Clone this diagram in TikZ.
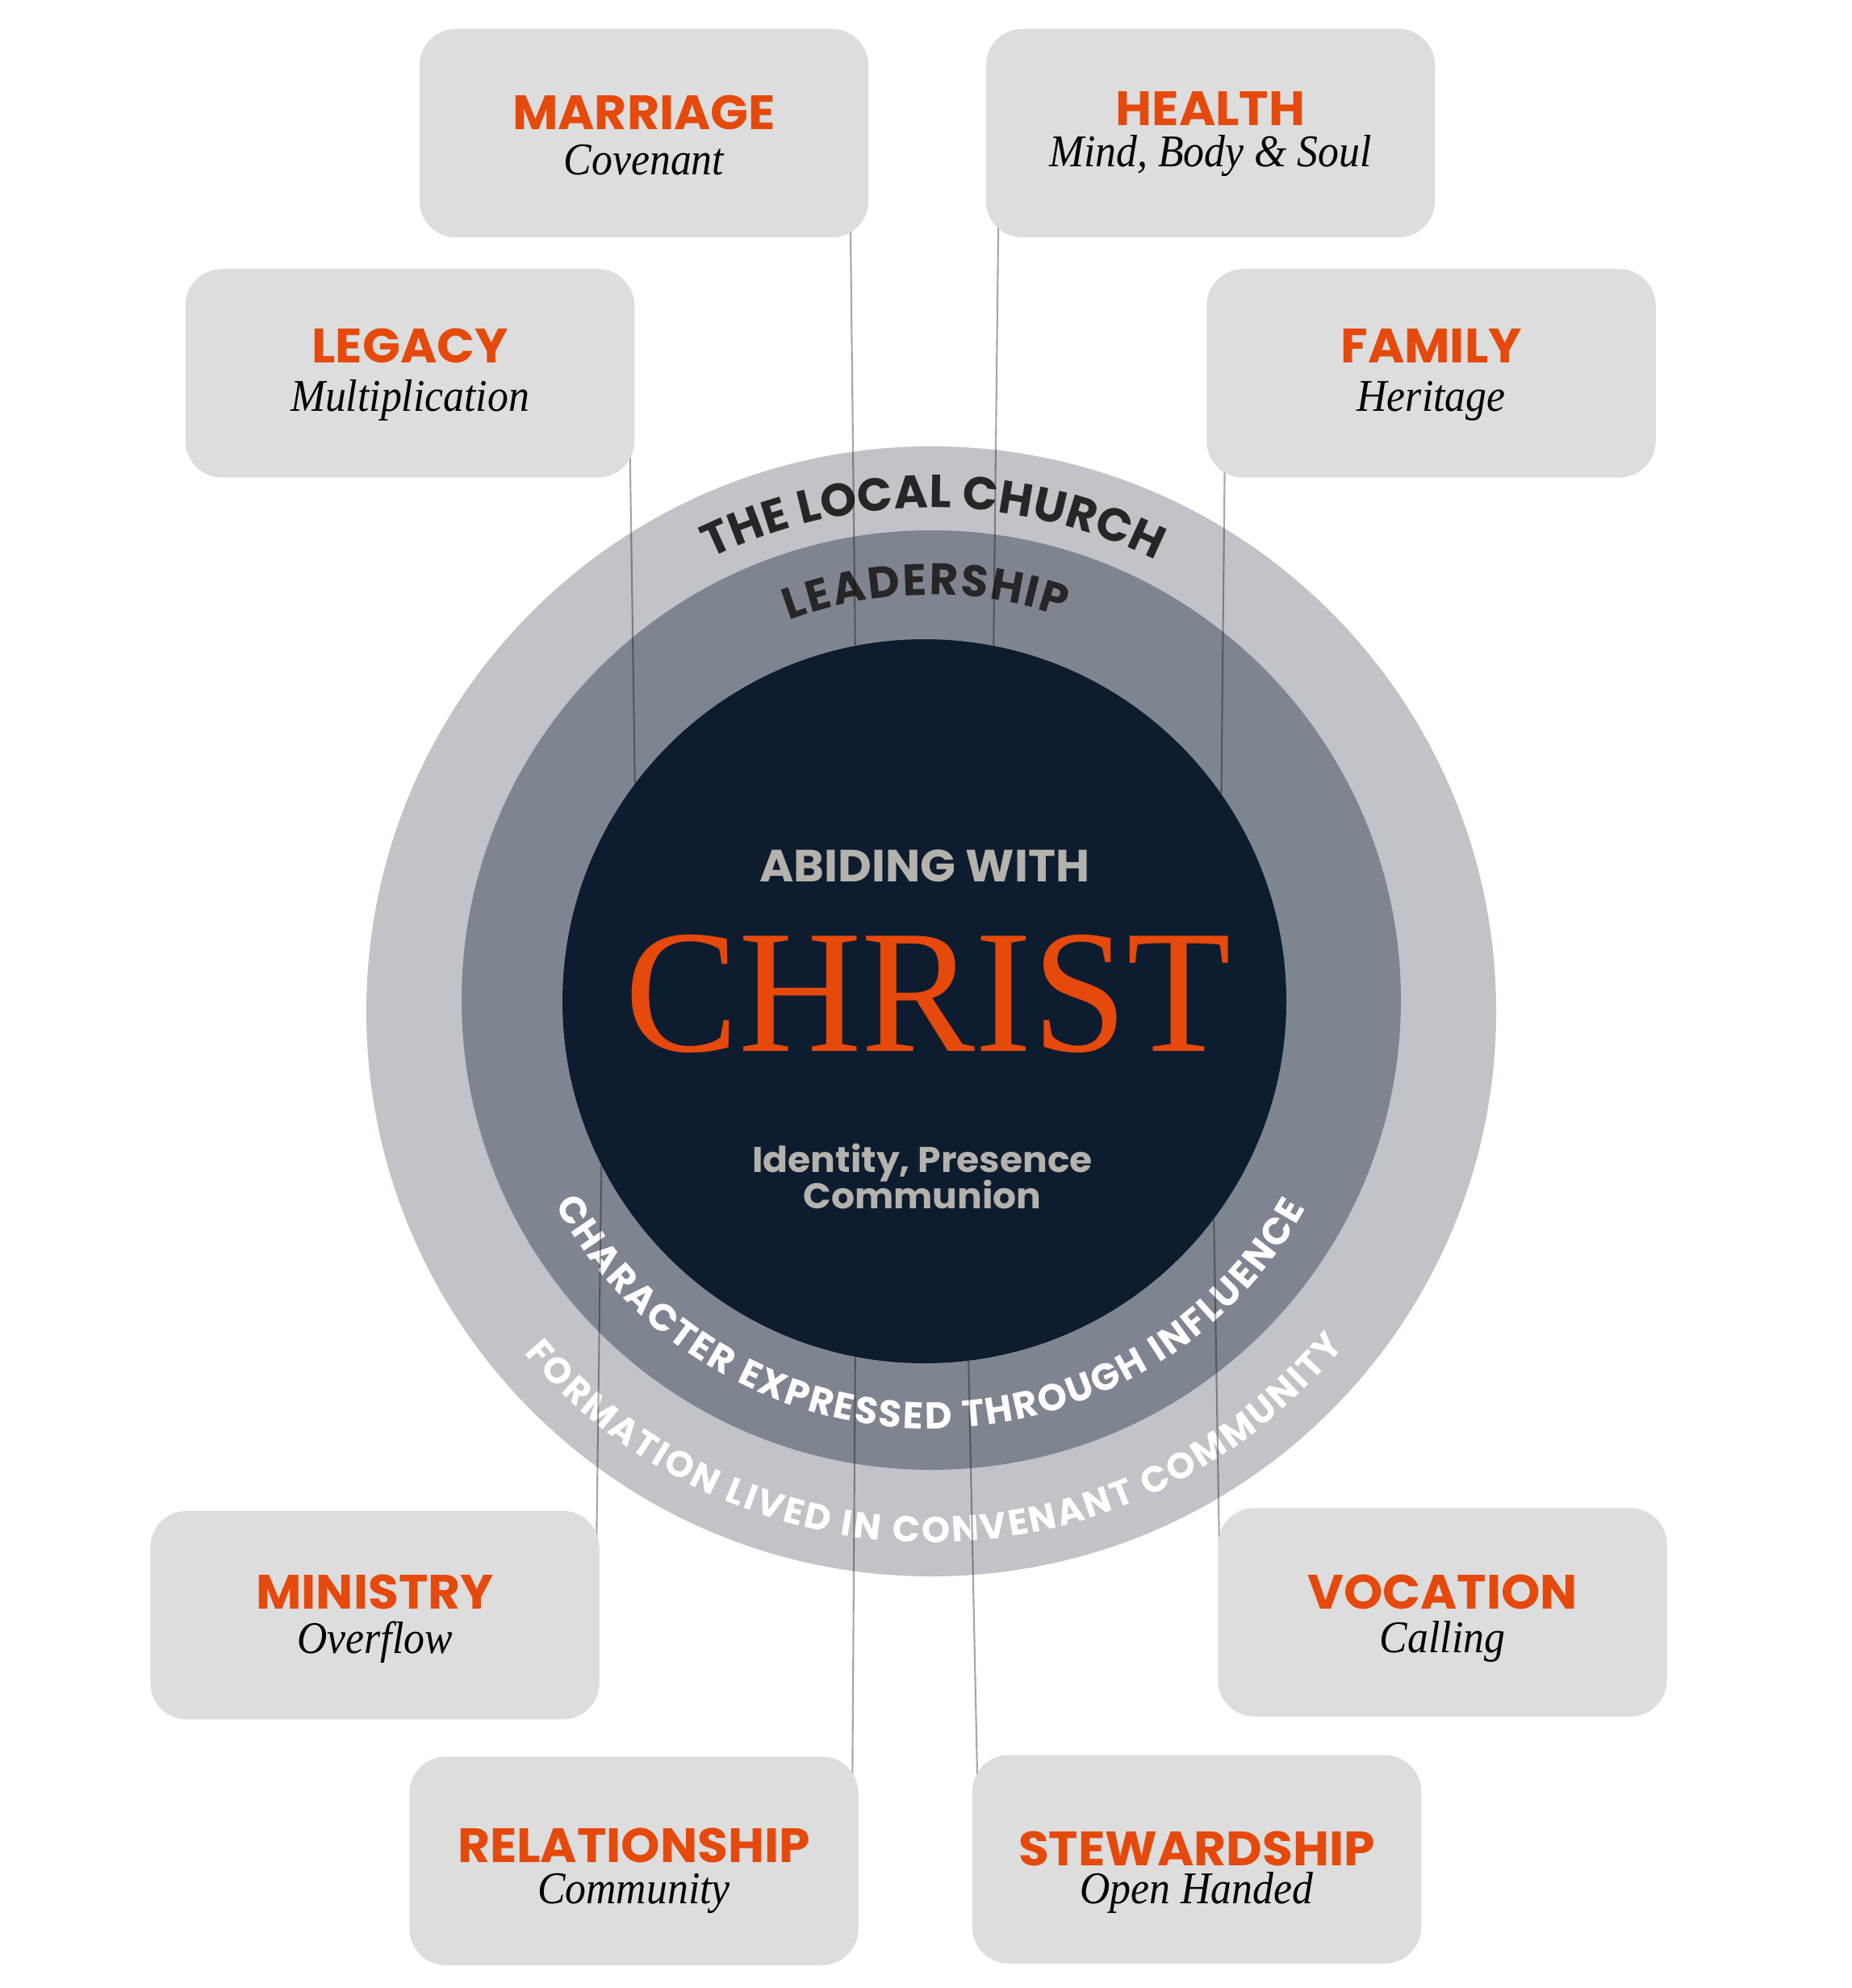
\documentclass[tikz,border=0pt]{standalone}
\usepackage{fontspec}
\usepackage{tikz}
\usetikzlibrary{decorations.text}
\setmainfont{Liberation Serif}
\newfontfamily\headfont{Poppins}[FakeStretch = 1.03]
\newfontfamily\arcfamily{Poppins}
\newfontfamily\subfont{Liberation Serif}[FakeStretch = 0.92]
\newfontfamily\christfont{Liberation Serif}[FakeStretch = 0.97]
\newcommand{\arcfont}[1]{\arcfamily\bfseries\fontsize{#1}{#1}\selectfont}
\definecolor{accent}{HTML}{E5490B}
\definecolor{boxgray}{HTML}{DDDDDD}
\definecolor{churchgray}{HTML}{C0C3C8}
\definecolor{leadgray}{HTML}{7F8590}
\definecolor{navy}{HTML}{0E1C2F}
\definecolor{warmgray}{HTML}{B4B2AD}
\definecolor{ink}{HTML}{262626}

\begin{document}
\begin{tikzpicture}[
  box/.style = {rounded corners = 0.45cm, fill = boxgray, minimum width = 5.56cm, minimum height = 2.58cm, inner sep = 0pt},
  ttl/.style = {anchor = base, yshift = 0.045cm, text = accent, font = \headfont\bfseries\fontsize{17}{18}\selectfont},
  sub/.style = {anchor = base, yshift = -0.47cm, font = \subfont\itshape\fontsize{16}{17}\selectfont},
  ring/.style = {circle, inner sep = 0pt},
  link/.style = {draw = black, opacity = 0.35, line width = 0.6pt},
  inwords/.style = {text = warmgray, font = \headfont\bfseries\fontsize{#1}{#1}\selectfont},
  curved/.style n args = {3}{decorate, decoration = {text along path, text align = {fit to path}, text color = #1, text = {|\arcfont{#2}|#3}}}
]
\fill[white] (0,0) rectangle (22.94,-24.63);

\node[ring, fill = churchgray, minimum size = 14cm] (c1) at (11.54,-12.53) {};
\node[ring, fill = leadgray, minimum size = 11.64cm] (c2) at (11.54,-12.39) {};
\node[ring, fill = navy, minimum size = 8.97cm] (c3) at (11.455,-12.405) {};

\path[curved = {ink}{16.3}{THE LOCAL CHURCH}] ([shift = {(116:6.24)}]c1.center) arc[start angle = 116, end angle = 63.5, radius = 6.24];
\path[curved = {ink}{15.6}{LEADERSHIP}] ([shift = {(110.6:5.02)}]c2.center) arc[start angle = 110.6, end angle = 71, radius = 5.02];
\path[curved = {white}{13.2}{CHARACTER EXPRESSED THROUGH INFLUENCE}] ([shift = {(208.5:5.31)}]c2.center) arc[start angle = 208.5, end angle = 331, radius = 5.31];
\path[curved = {white}{12.8}{FORMATION LIVED IN CONVENANT COMMUNITY}] ([shift = {(220:6.58)}]c1.center) arc[start angle = 220, end angle = 321, radius = 6.58];

\node[box] (mar) at (7.98,-1.65) {};
\node[box] (hea) at (15.00,-1.65) {};
\node[box] (leg) at (5.08,-4.625) {};
\node[box] (fam) at (17.735,-4.625) {};
\node[box] (min) at (4.645,-20.01) {};
\node[box] (voc) at (17.875,-19.975) {};
\node[box] (rel) at (7.855,-23.055) {};
\node[box] (ste) at (14.83,-23.035) {};

\draw[link] ([xshift = -0.23cm, yshift = 0.3cm]mar.south east) -- (c3.101.9);
\draw[link] ([xshift = 0.16cm, yshift = 0.3cm]hea.south west) -- (c3.79);
\draw[link] ([xshift = -0.06cm, yshift = 0.3cm]leg.south east) -- (c3.143.3);
\draw[link] ([xshift = 0.23cm, yshift = 0.3cm]fam.south west) -- (c3.35.4);
\draw[link] ([xshift = -0.04cm, yshift = -0.4cm]min.north east) -- (c3.207.9);
\draw[link] ([xshift = 0.02cm, yshift = -0.4cm]voc.north west) -- (c3.323.7);
\draw[link] ([xshift = -0.08cm, yshift = -0.4cm]rel.north east) -- (c3.259.3);
\draw[link] ([xshift = 0.07cm, yshift = -0.4cm]ste.north west) -- (c3.277.5);

\node[box] at (mar) {};
\node[box] at (hea) {};
\node[box] at (leg) {};
\node[box] at (fam) {};
\node[box] at (min) {};
\node[box] at (voc) {};
\node[box] at (rel) {};
\node[box] at (ste) {};

\node[ttl] (mar-t) at (mar) {MARRIAGE};
\node[sub, yshift = -0.05cm] (mar-s) at (mar) {Covenant};
\node[ttl, yshift = 0.05cm] (hea-t) at (hea) {HEALTH};
\node[sub, yshift = 0.05cm] (hea-s) at (hea) {Mind, Body \& Soul};
\node[ttl, yshift = 0.08cm] (leg-t) at (leg) {LEGACY};
\node[sub] (leg-s) at (leg) {Multiplication};
\node[ttl, yshift = 0.08cm] (fam-t) at (fam) {FAMILY};
\node[sub] (fam-s) at (fam) {Heritage};
\node[ttl, yshift = 0.03cm] (min-t) at (min) {MINISTRY};
\node[sub] (min-s) at (min) {Overflow};
\node[ttl] (voc-t) at (voc) {VOCATION};
\node[sub, yshift = -0.03cm] (voc-s) at (voc) {Calling};
\node[ttl, yshift = -0.06cm] (rel-t) at (rel) {RELATIONSHIP};
\node[sub, yshift = -0.06cm] (rel-s) at (rel) {Community};
\node[ttl, yshift = -0.12cm] (ste-t) at (ste) {STEWARDSHIP};
\node[sub, yshift = -0.08cm] (ste-s) at (ste) {Open Handed};

\node[inwords = 15.9] (abide) at (11.46,-10.73) {ABIDING WITH};
\node[text = accent, font = \christfont\fontsize{62}{62}\selectfont] (christ) at (11.50,-12.31) {CHRIST};
\node[inwords = 12.6, anchor = base] (idp) at (11.43,-14.52) {Identity, Presence};
\node[inwords = 12.6, anchor = base] (com) at (11.43,-14.97) {Communion};
\end{tikzpicture}
\end{document}
